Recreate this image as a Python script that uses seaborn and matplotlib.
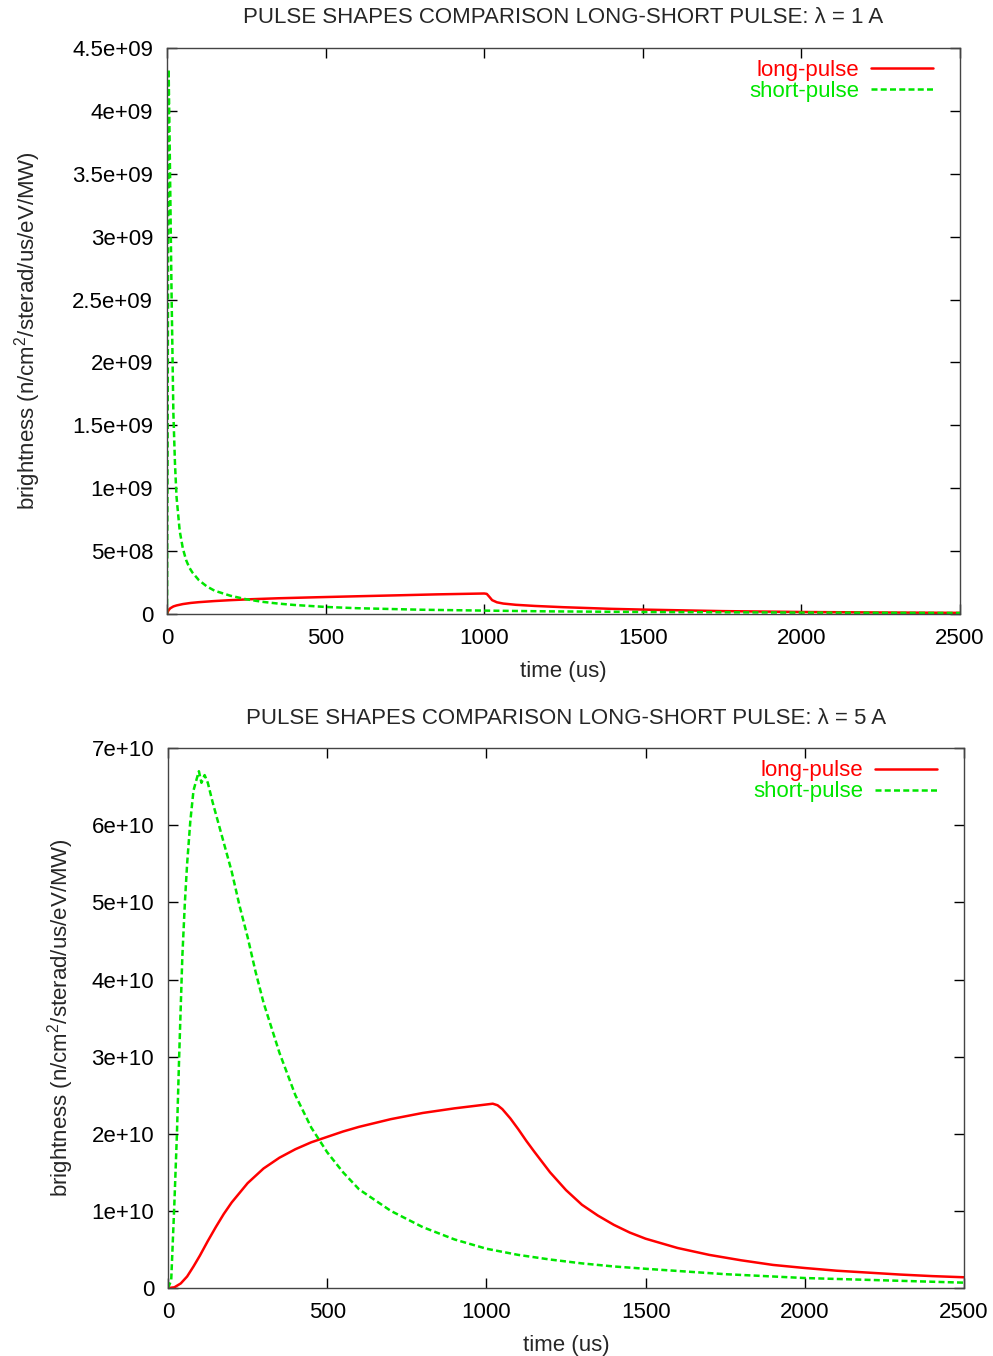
import numpy as np
import pandas as pd
import matplotlib
matplotlib.use("Agg")
import matplotlib.pyplot as plt
from matplotlib.ticker import FuncFormatter, MultipleLocator
import seaborn as sns

# ---- lambda = 1 A (brightness in n/cm^2/sterad/us/eV/MW) ----
long_1A_t = [0, 2, 5, 10, 20, 30, 50, 75, 100, 150, 200, 260, 350, 470, 600, 735, 850,
             1000, 1008, 1015, 1025, 1040, 1060, 1100, 1160, 1250, 1400, 1500, 1750, 2000,
             2250, 2500]
long_1A_v = [0, 0.015e9, 0.03e9, 0.045e9, 0.06e9, 0.068e9, 0.079e9, 0.088e9, 0.094e9,
             0.103e9, 0.11e9, 0.117e9, 0.125e9, 0.133e9, 0.141e9, 0.149e9, 0.156e9,
             0.163e9, 0.16e9, 0.14e9, 0.11e9, 0.093e9, 0.083e9, 0.073e9, 0.064e9,
             0.054e9, 0.041e9, 0.035e9, 0.023e9, 0.016e9, 0.012e9, 0.009e9]

short_1A_t = [0, 2, 4, 5, 8, 11, 14, 17, 20, 25, 30, 40, 50, 60, 70, 80, 100, 125, 150,
              200, 250, 300, 350, 400, 500, 600, 800, 1000, 1200, 1500, 2000, 2500]
short_1A_v = [0, 1.5e9, 3.5e9, 4.33e9, 3.8e9, 3.2e9, 2.6e9, 2.1e9, 1.6e9, 1.2e9, 0.93e9,
              0.66e9, 0.52e9, 0.43e9, 0.37e9, 0.33e9, 0.27e9, 0.22e9, 0.185e9, 0.145e9,
              0.117e9, 0.097e9, 0.083e9, 0.072e9, 0.056e9, 0.046e9, 0.034e9, 0.027e9,
              0.021e9, 0.016e9, 0.011e9, 0.008e9]

# ---- lambda = 5 A ----
long_5A_t = [0, 20, 40, 60, 80, 100, 125, 150, 175, 200, 250, 300, 350, 400, 450, 500,
             550, 600, 700, 800, 900, 1000, 1020, 1035, 1050, 1075, 1100, 1125, 1150,
             1200, 1250, 1300, 1350, 1400, 1450, 1500, 1600, 1700, 1800, 1900, 2000, 2100,
             2200, 2300, 2400, 2500]
long_5A_v = [0, 0.01e10, 0.06e10, 0.15e10, 0.28e10, 0.42e10, 0.61e10, 0.79e10, 0.96e10,
             1.11e10, 1.36e10, 1.55e10, 1.69e10, 1.80e10, 1.89e10, 1.96e10, 2.03e10,
             2.09e10, 2.19e10, 2.27e10, 2.33e10, 2.38e10, 2.39e10, 2.37e10, 2.32e10,
             2.2e10, 2.06e10, 1.91e10, 1.77e10, 1.5e10, 1.27e10, 1.08e10, 0.94e10,
             0.82e10, 0.72e10, 0.64e10, 0.52e10, 0.43e10, 0.36e10, 0.30e10, 0.26e10,
             0.225e10, 0.20e10, 0.175e10, 0.155e10, 0.14e10]

short_5A_t = [0, 10, 15, 20, 28, 35, 45, 53, 60, 70, 80, 90, 97, 105, 115, 125, 140, 160,
              180, 200, 225, 250, 275, 300, 350, 400, 450, 500, 550, 600, 700, 800, 900,
              1000, 1100, 1200, 1300, 1400, 1500, 1750, 2000, 2250, 2500]
short_5A_v = [0, 0.1e10, 0.6e10, 1.1e10, 2.0e10, 3.0e10, 4.3e10, 5.0e10, 5.5e10, 6.05e10,
              6.45e10, 6.6e10, 6.7e10, 6.55e10, 6.65e10, 6.55e10, 6.3e10, 6.0e10, 5.7e10,
              5.4e10, 4.95e10, 4.55e10, 4.1e10, 3.7e10, 3.05e10, 2.5e10, 2.08e10, 1.76e10,
              1.5e10, 1.28e10, 1.0e10, 0.79e10, 0.63e10, 0.51e10, 0.43e10, 0.37e10,
              0.32e10, 0.28e10, 0.25e10, 0.18e10, 0.13e10, 0.10e10, 0.07e10]

titles = ["PULSE SHAPES COMPARISON LONG-SHORT PULSE: \u03bb = 1 A",
          "PULSE SHAPES COMPARISON LONG-SHORT PULSE: \u03bb = 5 A"]
x_label = "time (us)"
y_label = "brightness (n/cm$^2$/sterad/us/eV/MW)"
series_names = ["long-pulse", "short-pulse"]
y_max = [4.5e9, 7e10]
y_step = [5e8, 1e10]

sns.set_theme(style="ticks")
plt.rcParams["font.family"] = ["Liberation Sans", "DejaVu Sans"]
plt.rcParams["mathtext.fontset"] = "custom"
plt.rcParams["mathtext.rm"] = "Liberation Sans"

RED = "#ff0000"
GREEN = "#00e600"
FS = 16

fig = plt.figure(figsize=(9.93, 13.56), dpi=100)
ax1 = fig.add_axes([0.1682, 0.5472, 0.7986, 0.4174])
ax2 = fig.add_axes([0.1692, 0.0501, 0.8016, 0.3982])

panels = [
    (ax1, long_1A_t, long_1A_v, short_1A_t, short_1A_v),
    (ax2, long_5A_t, long_5A_v, short_5A_t, short_5A_v),
]
ylabel_pad = [21, 11]
title_pad = [18, 17.5]

for i, (ax, lt, lv, st, sv) in enumerate(panels):
    df_long = pd.DataFrame({"t": lt, "v": lv})
    df_short = pd.DataFrame({"t": st, "v": sv})
    sns.lineplot(data=df_long, x="t", y="v", ax=ax, color=RED, linewidth=1.8,
                 label=series_names[0], estimator=None, sort=True)
    sns.lineplot(data=df_short, x="t", y="v", ax=ax, color=GREEN, linewidth=1.8,
                 linestyle=(0, (2.4, 1.3)), label=series_names[1], estimator=None, sort=True)

    ax.set_xlim(0, 2500)
    ax.set_ylim(0, y_max[i])
    ax.xaxis.set_major_locator(MultipleLocator(500))
    ax.yaxis.set_major_locator(MultipleLocator(y_step[i]))
    ax.xaxis.set_major_formatter(FuncFormatter(lambda v, p: "%g" % v))
    ax.yaxis.set_major_formatter(FuncFormatter(lambda v, p: "%g" % v))
    ax.tick_params(direction="in", length=7, width=1, top=True, right=True,
                   labelsize=FS, colors="black")
    ax.tick_params(axis="x", pad=10)
    ax.tick_params(axis="y", pad=10)
    for s in ax.spines.values():
        s.set_color("#444444")
        s.set_linewidth(1.0)

    ax.set_title(titles[i], fontsize=FS, pad=title_pad[i])
    ax.set_xlabel(x_label, fontsize=FS, labelpad=9)
    ax.set_ylabel(y_label, fontsize=FS, labelpad=ylabel_pad[i])

    leg = ax.legend(loc="upper right", bbox_to_anchor=(0.985, 1.006), frameon=False,
                    markerfirst=False, fontsize=FS, handlelength=2.75, handletextpad=0.55,
                    labelspacing=0.0, borderaxespad=0.3)
    for txt, col in zip(leg.get_texts(), [RED, GREEN]):
        txt.set_color(col)

fig.savefig("out.png", dpi=100, facecolor="white")
